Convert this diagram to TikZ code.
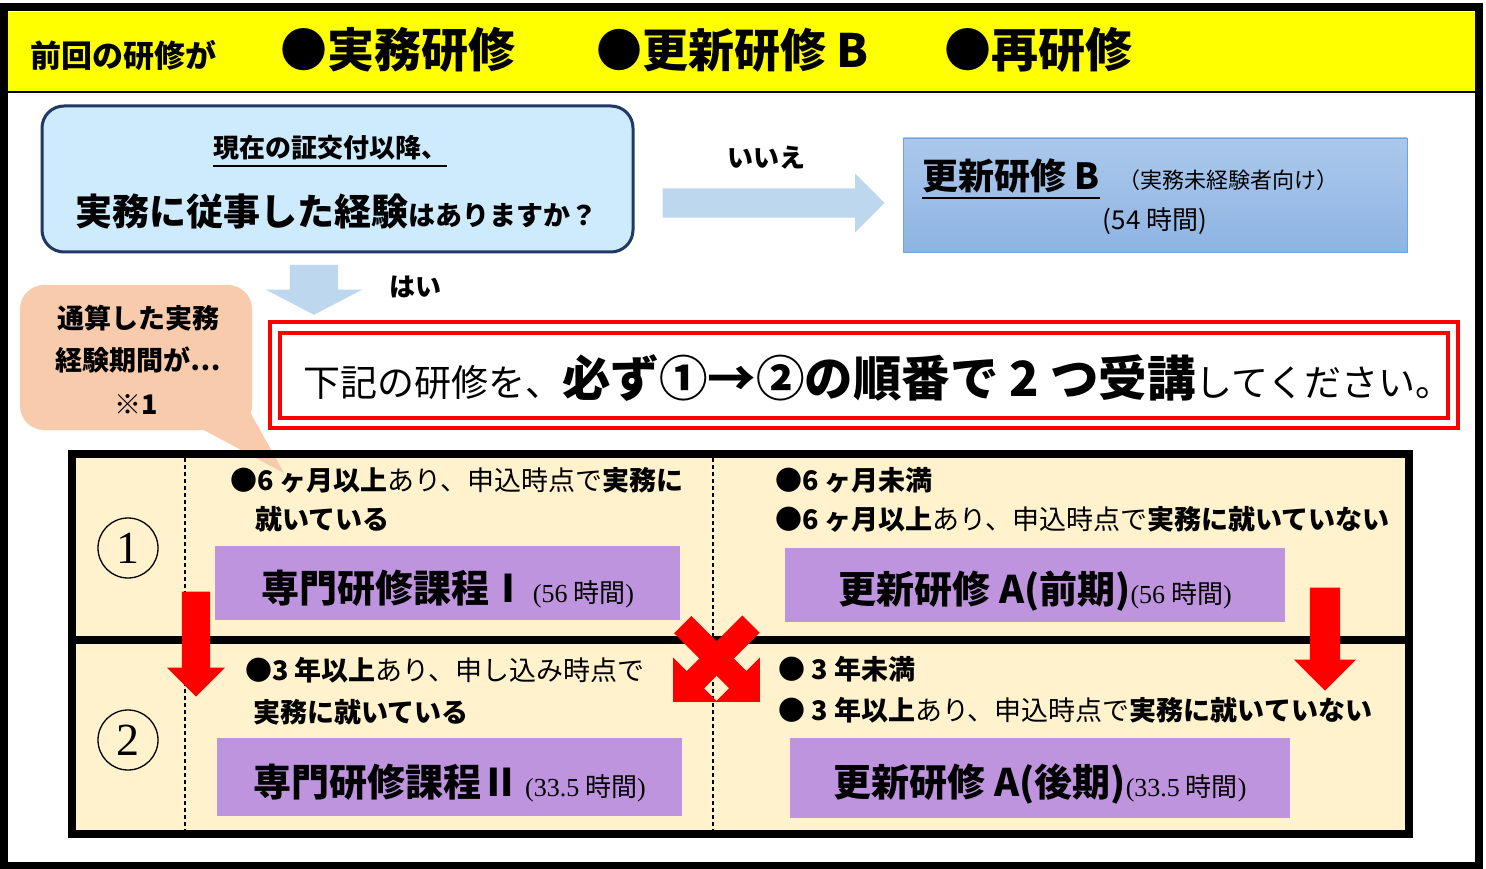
\documentclass[tikz,border=0pt]{standalone}
\usepackage{fontspec}
\setmainfont{Noto Sans CJK JP}
\newfontfamily\romanfont{Liberation Serif}
\usetikzlibrary{shapes.arrows,positioning}
\definecolor{hdryellow}{HTML}{FFFF00}
\definecolor{qfill}{HTML}{CDEBFC}
\definecolor{qedge}{HTML}{1F3864}
\definecolor{pale}{HTML}{BDD7EE}
\definecolor{btop}{HTML}{ABC8EB}
\definecolor{bbot}{HTML}{8EB4E3}
\definecolor{bedge}{HTML}{6FA3DC}
\definecolor{salmon}{HTML}{F8CBAD}
\definecolor{cream}{HTML}{FFF2CC}
\definecolor{lilac}{HTML}{BF94DE}

\newcommand{\jpsize}[1]{\fontsize{#1}{#1}\selectfont}
\newcommand{\hours}[1]{{\romanfont(#1} 時間{\romanfont)}}

\begin{document}
\begin{tikzpicture}[x=1pt,y=-1pt,
    every node/.style={inner sep=0pt},
    txt/.style={anchor=west,font=\jpsize{27}},
    course/.style={fill=lilac,minimum width=465,minimum height=74},
    coursetxt/.style={yshift=-6pt},
    redarrow/.style={single arrow,fill=red,inner xsep=0pt,anchor=tip},
    palearrow/.style={single arrow,fill=pale,inner xsep=0pt,anchor=tip}]
  \useasboundingbox (0,0) rectangle (1486,869);
  \fill[white] (0,0) rectangle (1486,869);

  % header band
  \fill[hdryellow] (8,12) rectangle (1475,92);
  \draw[line width=2pt] (8,92) -- (1475,92);
  \draw[line width=8pt] (4,7.5) rectangle (1479,865.5);
  \node[anchor=west,font=\bfseries\jpsize{31}] (prev) at (30,56) {前回の研修が};
  \node[anchor=west,font=\bfseries\jpsize{47}] (jitsumu) at (280,50) {●実務研修};
  \node[anchor=west,font=\bfseries\jpsize{46}] (renewB) at (596,50) {●更新研修 B};
  \node[anchor=west,font=\bfseries\jpsize{47}] (again) at (944,50) {●再研修};

  % question
  \node[draw=qedge,fill=qfill,line width=3pt,rounded corners=22,
    minimum width=591,minimum height=146] (q) at (337.5,179) {};
  \node[font=\bfseries\jpsize{26}] (q1) at (330,148) {現在の証交付以降、};
  \draw[line width=2pt] ([yshift=-5pt]q1.south west) -- ([yshift=-5pt]q1.south east);
  \node[font=\bfseries] (q2) at (336,212) {\jpsize{37}実務に従事した経験\jpsize{27}はありますか？};

  % answer no
  \node[palearrow,minimum height=222,inner ysep=14.5pt,single arrow head extend=15pt] (no) at (885,203) {};
  \node[font=\bfseries\jpsize{26}] (nolbl) at (766,158) {いいえ};
  \node[draw=bedge,top color=btop,bottom color=bbot,
    minimum width=504,minimum height=114] (boxB) at (1155,195) {};
  \node[anchor=west,font=\bfseries\jpsize{36}] (bname) at (922,176) {更新研修 B};
  \draw[line width=2pt] ([yshift=-5pt]bname.south west) -- ([yshift=-5pt]bname.south east);
  \node[anchor=west,font=\jpsize{22}] (bfor) at (1118,180) {（実務未経験者向け）};
  \node[font=\jpsize{26}] (bhours) at (1155,221) {(54 時間)};

  % answer yes
  \node[palearrow,rotate=-90,minimum height=50,inner ysep=24pt,
    single arrow head extend=24pt,single arrow tip angle=125] (yes) at (314,315) {};
  \node[font=\bfseries\jpsize{26}] (yeslbl) at (415,287) {はい};

  % table background
  \node[fill=cream,minimum width=1337,minimum height=380] (tbl) at (740.5,644) {};

  % callout
  \coordinate (calltip) at (284,473);
  \node[fill=salmon,rounded corners=24,minimum width=232,minimum height=145] (call) at (136,357.5) {};
  \fill[salmon] (200,428) -- (calltip) -- (250,412) -- cycle;
  \node[font=\bfseries\jpsize{27}] (call1) at (138,318) {通算した実務};
  \node[font=\bfseries\jpsize{27}] (call2) at (138,360) {経験期間が…};
  \node[font=\bfseries\jpsize{27}] (call3) at (136,405) {※1};

  % instruction
  \node[draw=red,line width=4pt,minimum width=1188,minimum height=106] (must) at (864,375) {};
  \node[draw=red,line width=4pt,minimum width=1168,minimum height=85] (mustin) at (864,375.5) {};
  \node[anchor=west] (musttxt) at (303,378)
    {\jpsize{37}下記の研修を、\bfseries\jpsize{48.5}必ず①→②の順番で 2 つ受講\mdseries\jpsize{37}してください。};

  % table lines
  \draw[line width=8pt] (tbl.north west) rectangle (tbl.south east);
  \draw[line width=8pt] (72,640) -- (1409,640);
  \draw[line width=1.2pt,dash pattern=on 4pt off 3pt] (185,458) -- (185,830);
  \draw[line width=1.2pt,dash pattern=on 4pt off 3pt] (713,458) -- (713,830);

  % step 1
  \node[draw,circle,line width=1.3pt,minimum size=60,font=\romanfont\jpsize{46}] (one) at (128,548) {1};
  \node[txt] (r1la) at (230,480) {\textbf{●6 ヶ月以上}あり、申込時点で\textbf{実務に}};
  \node[txt] (r1lb) at (255,519) {\textbf{就いている}};
  \node[course] (c1) at (447.5,583) {};
  \node[coursetxt] (c1txt) at (c1.center) {\bfseries\jpsize{38}専門研修課程Ⅰ\mdseries\jpsize{26} \hours{56}};
  \node[txt] (r1ra) at (775,480) {\textbf{●6 ヶ月未満}};
  \node[txt] (r1rb) at (775,519) {\textbf{●6 ヶ月以上}あり、申込時点で\textbf{実務に就いていない}};
  \node[course,minimum width=500] (c2) at (1035,585) {};
  \node[coursetxt] (c2txt) at (c2.center) {\bfseries\jpsize{38}更新研修 A(前期)\mdseries\jpsize{26}\hours{56}};

  % step 2
  \node[draw,circle,line width=1.3pt,minimum size=60,font=\romanfont\jpsize{46}] (two) at (128,740) {2};
  \node[txt] (r2la) at (245,670) {\textbf{●3 年以上}あり、申し込み時点で};
  \node[txt] (r2lb) at (253,712) {\textbf{実務に就いている}};
  \node[course,minimum height=78] (c3) at (449.5,777) {};
  \node[coursetxt] (c3txt) at (c3.center) {\bfseries\jpsize{38}専門研修課程Ⅱ\mdseries\jpsize{26} \hours{33.5}};
  \node[txt] (r2ra) at (778,669) {\textbf{● 3 年未満}};
  \node[txt] (r2rb) at (778,710) {\textbf{● 3 年以上}あり、申込時点で\textbf{実務に就いていない}};
  \node[course,minimum width=500,minimum height=80] (c4) at (1040,778) {};
  \node[coursetxt] (c4txt) at (c4.center) {\bfseries\jpsize{38}更新研修 A(後期)\mdseries\jpsize{26}\hours{33.5}};

  % red arrows
  \node[redarrow,rotate=-90,minimum height=105,inner ysep=14pt,single arrow head extend=15pt] (downL) at (196,697) {};
  \node[redarrow,rotate=-90,minimum height=103,inner ysep=15pt,single arrow head extend=16pt] (downR) at (1325,691) {};
  \node[redarrow,rotate=-45,minimum height=109,inner ysep=12pt,single arrow head extend=19pt] (crossA) at (760,702) {};
  \node[redarrow,rotate=-135,minimum height=110,inner ysep=12pt,single arrow head extend=19pt] (crossB) at (673,702) {};
\end{tikzpicture}
\end{document}
